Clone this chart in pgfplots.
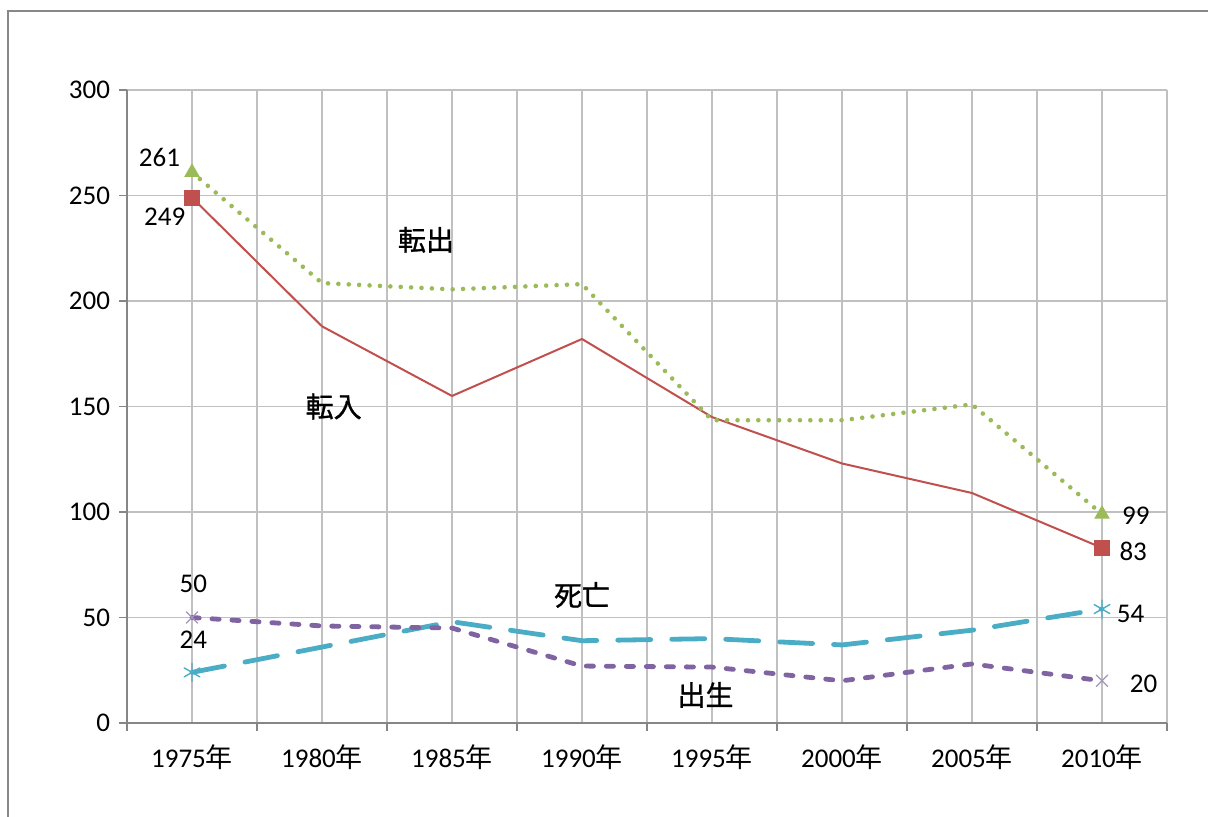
\documentclass[border=0pt]{standalone}
\usepackage{fontspec}
\setmainfont{Carlito}
\newfontfamily\cjk{Noto Sans CJK JP}
\newfontfamily\cjkb[FakeBold=1]{Noto Sans CJK JP}
\usepackage{pgfplots}
\pgfplotsset{compat=1.18}

\definecolor{exred}{HTML}{C0504D}
\definecolor{exgreen}{HTML}{9BBB59}
\definecolor{exaqua}{HTML}{4BACC6}
\definecolor{expurple}{HTML}{8064A2}
\definecolor{gridgray}{HTML}{C0C0C0}
\definecolor{axgray}{HTML}{868686}
\definecolor{framegray}{HTML}{888888}

\begin{document}
\begin{tikzpicture}
\path[use as bounding box] (-63.5pt,-46.5pt) rectangle (540.5pt,361.5pt);
\draw[framegray, line width=1pt] (-59.5pt,-50pt) -- (-59.5pt,356pt) -- (545pt,356pt);
\begin{axis}[
    scale only axis,
    width=520pt, height=316.5pt,
    at={(0,0)}, anchor=south west,
    xmin=-0.5, xmax=7.5,
    ymin=0, ymax=300,
    xtick={0,...,7},
    xticklabels={1975{\cjk 年},1980{\cjk 年},1985{\cjk 年},1990{\cjk 年},1995{\cjk 年},2000{\cjk 年},2005{\cjk 年},2010{\cjk 年}},
    minor xtick={-0.5,0.5,...,7.5},
    ytick={0,50,...,300},
    grid=both,
    major grid style={color=gridgray, line width=0.75pt},
    minor grid style={color=gridgray, line width=0.75pt},
    axis lines*=left,
    axis line style={color=axgray, line width=0.75pt, -},
    tick align=outside,
    major tick length=4pt, minor tick length=4pt,
    major x tick style={draw=none},
    tick style={color=axgray, line width=0.75pt},
    /pgf/number format/assume math mode=true,
    ticklabel style={font=\fontsize{13.5}{15}\selectfont, text=black},
    xticklabel style={yshift=-3.5pt},
    yticklabel style={xshift=-1pt},
    clip=false,
]
% 転入
\addplot[exred, line width=1pt, mark=square*, mark indices={1,8},
    mark size=3.5pt, mark options={solid, fill=exred, draw=exred}]
    coordinates {(0,249) (1,188) (2,155) (3,182) (4,145) (5,123) (6,109) (7,83)};
% 転出
\addplot[exgreen, line width=2.3pt, line cap=round, dash pattern=on 0pt off 5.2pt,
    mark=triangle*, mark indices={1,8}, mark size=4pt,
    mark options={solid, fill=exgreen, draw=exgreen, line width=0.5pt}]
    coordinates {(0,261) (1,208.5) (2,205.5) (3,208) (4,143.5) (5,143.5) (6,151) (7,99)};
% 死亡
\addplot[exaqua, line width=2.4pt, line cap=round, dash pattern=on 16.5pt off 10.5pt,
    mark=asterisk, mark indices={1,8}, mark size=4.5pt,
    mark options={solid, line width=0.7pt}]
    coordinates {(0,24) (1,36) (2,48) (3,39) (4,40) (5,37) (6,44) (7,54)};
% 出生
\addplot[expurple, line width=2.4pt, line cap=round, dash pattern=on 3.6pt off 6.4pt,
    mark=x, mark indices={1,8}, mark size=4pt,
    mark options={solid, line width=0.6pt, draw=expurple!70}]
    coordinates {(0,50) (1,46) (2,45) (3,27) (4,26.5) (5,20) (6,28) (7,20)};

\begin{scope}[font=\fontsize{13.5}{15}\selectfont]
\node at (axis cs:-0.25,268) {261};
\node at (axis cs:-0.21,240) {249};
\node at (axis cs:7.26,98) {99};
\node at (axis cs:7.24,81.5) {83};
\node at (axis cs:0.01,66) {50};
\node at (axis cs:0.01,39.3) {24};
\node at (axis cs:7.22,51.7) {54};
\node at (axis cs:7.32,18.5) {20};
\end{scope}
\begin{scope}[font=\cjkb\fontsize{14}{16}\selectfont]
\node at (axis cs:1.8,229) {転出};
\node at (axis cs:1.09,150) {転入};
\node at (axis cs:3.0,60.7) {死亡};
\node at (axis cs:3.95,13.3) {出生};
\end{scope}
\end{axis}
\end{tikzpicture}
\end{document}
